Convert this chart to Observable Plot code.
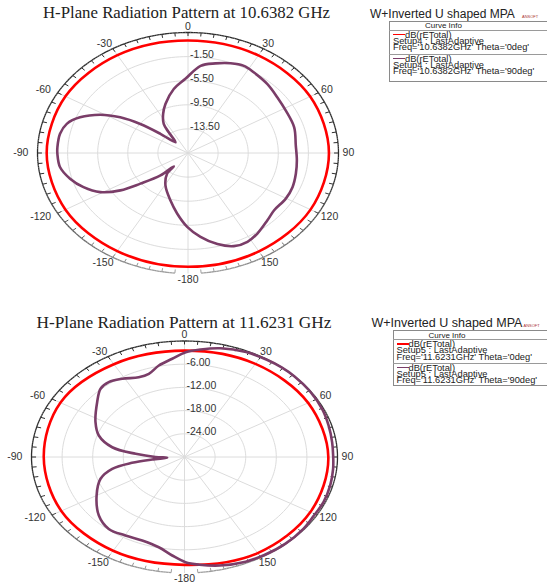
<!DOCTYPE html>
<html><head><meta charset="utf-8">
<script src="https://cdn.jsdelivr.net/npm/d3@7"></script>
<script src="https://cdn.jsdelivr.net/npm/@observablehq/plot@0.6"></script>
<style>
html,body{margin:0;padding:0;background:#fff}
#root{position:relative;width:547px;height:584px;overflow:hidden;font-family:"Liberation Sans",Arial,sans-serif}
.abs{position:absolute}
.title{font-family:"Liberation Serif","Times New Roman",serif;color:#222;white-space:nowrap;text-align:center;line-height:1}
.ltitle{font-family:"Liberation Sans",Arial,sans-serif;color:#222;white-space:nowrap;line-height:1}
.box{position:absolute;border:1px solid #8a8a8a;background:#fff;box-sizing:border-box}
.hdr{position:absolute;font-size:8px;color:#222;white-space:nowrap;line-height:1}
.ln{position:absolute;font-size:9.3px;color:#222;white-space:nowrap;line-height:1}
.sw{position:absolute;height:1.5px}
.sep{position:absolute;height:1px;background:#9a9a9a}
.logo{position:absolute;font-size:4px;color:#a33;white-space:nowrap;line-height:1}
</style>
</head><body><div id="root"></div>
<script>
// ---------- data ----------
// chart 1 : 10.6382 GHz (dB scale -17.5 .. 2.5)
const top_ringValues = [-13.5, -9.5, -5.5, -1.5];
const top_ringLabels = ["-13.50", "-9.50", "-5.50", "-1.50"];
const top_minDb = -17.5, top_maxDb = 2.5;
const top_redTheta = [-180, -150, -120, -90, -60, -30, 0, 30, 60, 90, 120, 150];
const top_redDb    = [1.38, 1.3, 1.3, 1.28, 1.3, 1.25, 1.18, 1.2, 1.25, 1.23, 1.3, 1.35];
const top_purpleTheta = [-179.5, -171.8, -163.4, -150.9, -141, -139.7, -135.5, -128.8, -124.6, -119.1, -112.2, -105.2, -97.9, -90.4, -86.8, -79.4, -73.3, -67.6, -61.4, -56.7, -52.8, -49, -43, -36.7, -33.8, -27, -20.2, -10.1, -1.6, 6.6, 13.8, 20.8, 27.2, 33.3, 42.7, 52.2, 61.6, 73.2, 84.9, 94.9, 103.5, 112.2, 120.2, 129.7, 136.6, 145.4, 151.8, 158.5, 165.5, 173.2];
const top_purpleDb    = [-5.24, -7.36, -9.3, -11.34, -13.08, -14.58, -12.28, -9.38, -6.58, -4.16, -2.5, -1.26, -0.34, -0.14, -0.12, -0.2, -0.68, -1.98, -4.22, -6.72, -9.54, -12.64, -15.06, -13.22, -11.7, -10.22, -8.82, -6.72, -5.18, -2.94, -2.18, -1.56, -1.24, -1.52, -1.94, -2.46, -2.72, -2.76, -3.12, -2.98, -2.76, -2.5, -2.46, -2.62, -2.14, -1.26, -0.78, -0.88, -1.88, -3.48];

// chart 2 : 11.6231 GHz (dB scale -30 .. 0)
const bot_ringValues = [-24, -18, -12, -6];
const bot_ringLabels = ["-24.00", "-18.00", "-12.00", "-6.00"];
const bot_minDb = -30, bot_maxDb = 0;
const bot_redTheta = [-180, -150, -120, -90, -60, -30, 0, 30, 60, 90, 120, 150];
const bot_redDb    = [-2.1, -2.0, -2.1, -2.4, -1.9, -2.3, -2.5, -2.2, -2.0, -1.8, -1.5, -1.3];
const bot_purpleTheta = [-174.6, -167.8, -159, -150.3, -141.4, -132, -120, -108.9, -102.2, -98.3, -95.8, -93, -90.1, -85.1, -79.9, -71.7, -62.7, -50.4, -43, -37.5, -31.1, -23.5, -18, -12, -5.4, 0.5, 6.5, 14.1, 24, 32.7, 39.4, 46, 55.2, 65.4, 73.9, 82.4, 89.2, 96, 104.4, 113.2, 120.8, 128.4, 138.7, 148.3, 156.1, 166.2, 174, 179.6];
const bot_purpleDb    = [-4.41, -6.12, -6.87, -6.62, -6.2, -7.4, -10.1, -12.6, -15.5, -19.6, -23.6, -26.6, -24.3, -20.4, -15.6, -12.3, -10.36, -7.77, -5.87, -5.6, -6.38, -7.5, -7.38, -5.8, -4.47, -2.9, -2.0, -1.0, -0.3, -0.1, 0, 0, -0.1, -0.3, -0.6, -0.8, -0.85, -0.7, -0.5, -0.35, -0.45, -0.2, -0.1, -0.2, -0.4, -1.1, -2.0, -2.79];

const angleTicks = [0, 30, 60, 90, 120, 150, 180, -150, -120, -90, -60, -30];
const angleTickLabels = ["0", "30", "60", "90", "120", "150", "-180", "-150", "-120", "-90", "-60", "-30"];

// ---------- drawing ----------
const rad = t => t * Math.PI / 180;

function polar(opts) {
  const {minDb, maxDb, ringValues, ringLabels, redTheta, redDb, purpleTheta, purpleDb, cx, cy, rx, ry, width, height} = opts;
  const norm = d => (d - minDb) / (maxDb - minDb);
  const P = (t, r) => ({x: r * Math.sin(rad(t)), y: r * Math.cos(rad(t))});
  const deg = d3.range(-180, 181, 2);
  const rings = ringValues.flatMap(v => deg.map(t => ({...P(t, norm(v)), ring: v})));
  const spokes = d3.range(-180, 180, 30).map(t => { const p = P(t, 1); return {x1: 0, y1: 0, x2: p.x, y2: p.y}; });
  const shade = t => { const g = Math.round(45 + 115 * Math.pow(Math.max(0, -Math.cos(rad(t))), 2)); return `rgb(${g},${g},${g})`; };
  // outer arc segments with shading (gap around the -180 label)
  const arcSegs = d3.range(-175, 175, 1).map(t => {
    const a = P(t, 1), b = P(t + 1, 1);
    return {x1: a.x, y1: a.y, x2: b.x, y2: b.y, c: shade(t + 0.5)};
  });
  const tl = 4 / ((rx + ry) / 2);
  const tickSegs = d3.range(-175, 180, 5).map(t => {
    const a = P(t, 1), b = P(t, 1 - tl);
    return {x1: a.x, y1: a.y, x2: b.x, y2: b.y, c: shade(t)};
  });
  const labels = angleTicks.map((t, i) => {
    const s = angleTickLabels[i];
    const neg = s.startsWith("-");
    const w = 5.9 * s.replace("-", "").length + (neg ? 3.5 : 0) + (neg && Math.abs(t) !== 180 ? 10 : 0);
    const sn = Math.sin(rad(t)), cs = Math.cos(rad(t));
    const ox = sn * (4 + w / 2), oy = cs * 6;
    return {x: sn + ox / rx, y: cs + oy / ry, s};
  });
  const rlabels = ringValues.map((v, i) => ({x: 0, y: norm(v), s: ringLabels[i]}));
  const red = redTheta.map((t, i) => P(t, norm(redDb[i])));
  const purple = purpleTheta.map((t, i) => P(t, norm(purpleDb[i])));
  return Plot.plot({
    width, height, margin: 0,
    style: {background: "transparent", overflow: "visible"},
    x: {domain: [-1, 1], range: [cx - rx, cx + rx], axis: null},
    y: {domain: [-1, 1], range: [cy + ry, cy - ry], axis: null},
    color: {type: "identity"},
    marks: [
      Plot.line(rings, {x: "x", y: "y", z: "ring", stroke: "#dcdcdc", strokeWidth: 1, curve: "linear-closed"}),
      Plot.link(spokes, {x1: "x1", y1: "y1", x2: "x2", y2: "y2", stroke: "#dcdcdc", strokeWidth: 1}),
      Plot.link(arcSegs, {x1: "x1", y1: "y1", x2: "x2", y2: "y2", stroke: "c", strokeWidth: 1.3}),
      Plot.link(tickSegs, {x1: "x1", y1: "y1", x2: "x2", y2: "y2", stroke: "c", strokeWidth: 1}),
      Plot.text(rlabels, {x: "x", y: "y", text: "s", textAnchor: "start", dx: 2, dy: -2, fontSize: 10.5, fill: "#333", fontFamily: "Liberation Sans, Arial, sans-serif"}),
      Plot.text(labels, {x: "x", y: "y", text: "s", textAnchor: "middle", fontSize: 10.5, fill: "#333", fontFamily: "Liberation Sans, Arial, sans-serif"}),
      Plot.line(red, {x: "x", y: "y", stroke: "#ff0000", strokeWidth: 2.6, curve: "catmull-rom-closed"}),
      Plot.line(purple, {x: "x", y: "y", stroke: "#7a3d68", strokeWidth: 2.6, curve: "catmull-rom-closed"})
    ]
  });
}

const root = document.getElementById("root");
function add(el, css) { Object.assign(el.style, css); root.appendChild(el); return el; }
function div(cls, text, css) { const d = document.createElement("div"); d.className = cls; if (text != null) d.textContent = text; return add(d, css); }

function chart(cfg) {
  const svg = polar(cfg);
  svg.style.position = "absolute";
  svg.style.left = "0px";
  svg.style.top = cfg.top + "px";
  root.appendChild(svg);
  div("abs title", cfg.title, {left: (cfg.titleCx - 200) + "px", width: "400px", top: (cfg.titleY - cfg.titleSize * 0.5) + "px", fontSize: cfg.titleSize + "px"});
  div("abs ltitle", cfg.legendTitle, {left: cfg.ltX + "px", top: (cfg.ltY - 6) + "px", fontSize: cfg.ltSize + "px"});
  div("logo", "ANSOFT", {left: (cfg.ltX + 152) + "px", top: (cfg.ltY + 1) + "px"});
  div("box", null, {left: cfg.bx + "px", top: cfg.by + "px", width: (547 - cfg.bx + 2) + "px", height: cfg.bh + "px"});
  div("hdr", "Curve Info", {left: (cfg.bx + 36) + "px", top: (cfg.by + 1.5) + "px"});
  div("sep", null, {left: cfg.bx + "px", width: (547 - cfg.bx) + "px", top: (cfg.by + 9) + "px"});
  div("sep", null, {left: cfg.bx + "px", width: (547 - cfg.bx) + "px", top: (cfg.by + cfg.rowSep) + "px"});
  cfg.rows.forEach((r, i) => {
    const y0 = cfg.by + (i === 0 ? 10 : cfg.rowSep + 1);
    div("sw", null, {left: (cfg.bx + 4) + "px", width: "12px", top: (y0 + 3) + "px", background: r.color});
    div("ln", "dB(rETotal)", {left: (cfg.bx + 16) + "px", top: (y0) + "px"});
    div("ln", r.setup, {left: (cfg.bx + 4) + "px", top: (y0 + 6.3) + "px"});
    div("ln", r.freq, {left: (cfg.bx + 4) + "px", top: (y0 + 12.6) + "px"});
  });
}

chart({
  top: 0, width: 365, height: 292, cx: 187.5, cy: 152.5, rx: 150.5, ry: 120.5,
  minDb: top_minDb, maxDb: top_maxDb, ringValues: top_ringValues, ringLabels: top_ringLabels,
  redTheta: top_redTheta, redDb: top_redDb, purpleTheta: top_purpleTheta, purpleDb: top_purpleDb,
  title: "H-Plane Radiation Pattern at 10.6382 GHz", titleCx: 186.5, titleY: 13, titleSize: 16.8,
  legendTitle: "W+Inverted U shaped MPA", ltX: 370, ltY: 14, ltSize: 12,
  bx: 389, by: 20.5, bh: 61, rowSep: 33,
  rows: [
    {color: "#ff0000", setup: "Setup4 : LastAdaptive", freq: "Freq='10.6382GHz' Theta='0deg'"},
    {color: "#7a3d68", setup: "Setup4 : LastAdaptive", freq: "Freq='10.6382GHz' Theta='90deg'"}
  ]
});
chart({
  top: 292, width: 365, height: 292, cx: 184, cy: 164.5, rx: 153, ry: 116,
  minDb: bot_minDb, maxDb: bot_maxDb, ringValues: bot_ringValues, ringLabels: bot_ringLabels,
  redTheta: bot_redTheta, redDb: bot_redDb, purpleTheta: bot_purpleTheta, purpleDb: bot_purpleDb,
  title: "H-Plane Radiation Pattern at 11.6231 GHz", titleCx: 184, titleY: 322.7, titleSize: 17.3,
  legendTitle: "W+Inverted U shaped MPA", ltX: 371.5, ltY: 322.7, ltSize: 12.5,
  bx: 392.5, by: 330, bh: 56, rowSep: 32.5,
  rows: [
    {color: "#ff0000", setup: "Setup5 : LastAdaptive", freq: "Freq='11.6231GHz' Theta='0deg'"},
    {color: "#7a3d68", setup: "Setup5 : LastAdaptive", freq: "Freq='11.6231GHz' Theta='90deg'"}
  ]
});
</script>
</body></html>
